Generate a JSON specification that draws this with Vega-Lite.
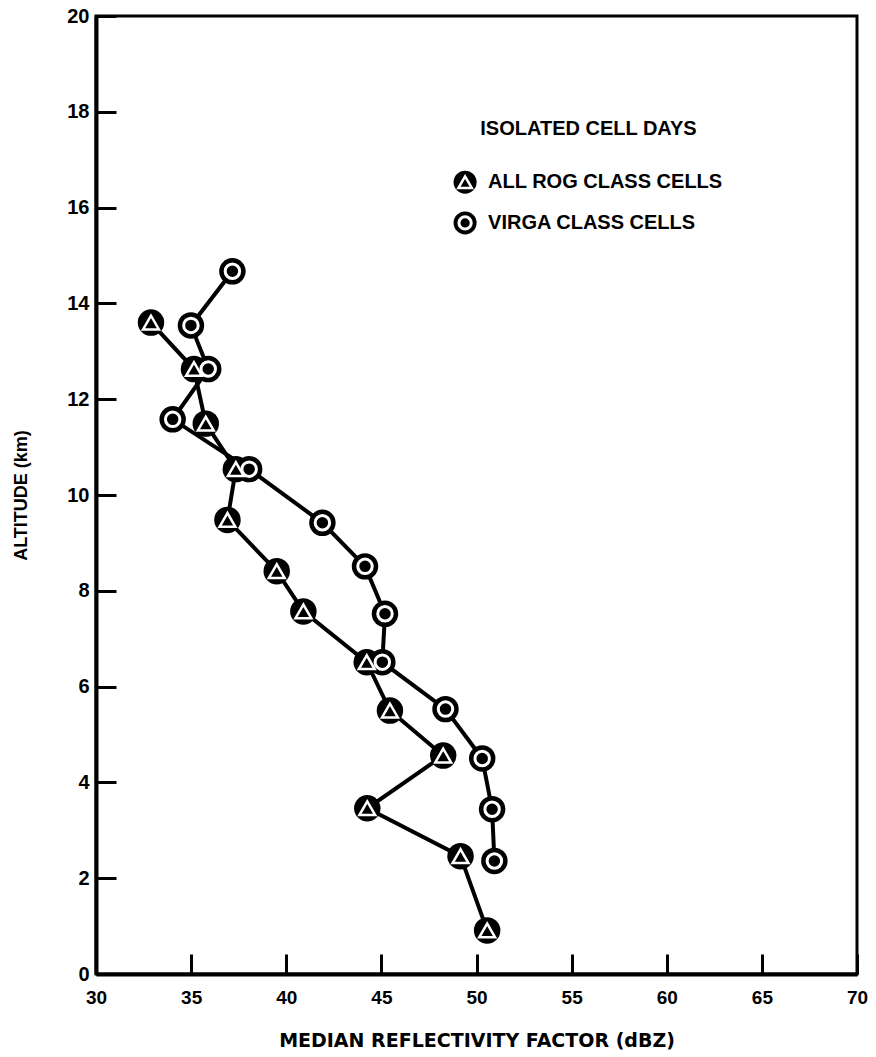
{
  "$schema": "https://vega.github.io/schema/vega-lite/v6.json",
  "width": 761,
  "height": 958,
  "autosize": {"type": "none"},
  "padding": {"left": 96, "top": 16, "right": 19, "bottom": 83},
  "background": "white",
  "config": {
    "view": {"stroke": "black", "strokeWidth": 3},
    "axis": {
      "grid": false,
      "domainColor": "black",
      "domainWidth": 4,
      "tickColor": "black",
      "tickWidth": 3,
      "tickSize": -20,
      "labelFlush": false,
      "labelOverlap": false,
      "labelColor": "black",
      "labelFont": "Liberation Sans",
      "labelFontWeight": "bold",
      "titleColor": "black",
      "titleFontWeight": "bold"
    }
  },
  "datasets": {
    "profiles": [
      {"series": "ROG", "dbz": 32.89, "alt": 13.60},
      {"series": "ROG", "dbz": 35.15, "alt": 12.63},
      {"series": "ROG", "dbz": 35.77, "alt": 11.49},
      {"series": "ROG", "dbz": 37.35, "alt": 10.54},
      {"series": "ROG", "dbz": 36.91, "alt": 9.48},
      {"series": "ROG", "dbz": 39.50, "alt": 8.41},
      {"series": "ROG", "dbz": 40.90, "alt": 7.57},
      {"series": "ROG", "dbz": 44.23, "alt": 6.51},
      {"series": "ROG", "dbz": 45.45, "alt": 5.50},
      {"series": "ROG", "dbz": 48.25, "alt": 4.56},
      {"series": "ROG", "dbz": 44.26, "alt": 3.46},
      {"series": "ROG", "dbz": 49.16, "alt": 2.46},
      {"series": "ROG", "dbz": 50.56, "alt": 0.91},
      {"series": "Virga", "dbz": 37.17, "alt": 14.67},
      {"series": "Virga", "dbz": 34.99, "alt": 13.54},
      {"series": "Virga", "dbz": 35.90, "alt": 12.63},
      {"series": "Virga", "dbz": 34.03, "alt": 11.58},
      {"series": "Virga", "dbz": 38.05, "alt": 10.54},
      {"series": "Virga", "dbz": 41.90, "alt": 9.42},
      {"series": "Virga", "dbz": 44.14, "alt": 8.51},
      {"series": "Virga", "dbz": 45.19, "alt": 7.52},
      {"series": "Virga", "dbz": 45.05, "alt": 6.51},
      {"series": "Virga", "dbz": 48.37, "alt": 5.53},
      {"series": "Virga", "dbz": 50.30, "alt": 4.50},
      {"series": "Virga", "dbz": 50.82, "alt": 3.44},
      {"series": "Virga", "dbz": 50.94, "alt": 2.36}
    ],
    "legend": [
      {"series": "ROG", "dbz": 49.4, "alt": 16.53, "label": "ALL ROG CLASS CELLS"},
      {"series": "Virga", "dbz": 49.4, "alt": 15.68, "label": "VIRGA CLASS CELLS"}
    ],
    "legendTitle": [
      {"dbz": 50.2, "alt": 17.64, "label": "ISOLATED CELL DAYS"}
    ]
  },
  "layer": [
    {
      "data": {"name": "profiles"},
      "mark": {"type": "line", "color": "black", "strokeWidth": 4},
      "encoding": {
        "x": {
          "field": "dbz", "type": "quantitative",
          "scale": {"domain": [30, 70], "nice": false, "zero": false},
          "axis": {
            "values": [30, 35, 40, 45, 50, 55, 60, 65, 70],
            "labelFontSize": 19,
            "labelPadding": 34,
            "title": "MEDIAN REFLECTIVITY FACTOR (dBZ)",
            "titleFont": "DejaVu Sans",
            "titleFontSize": 19,
            "titlePadding": 24
          }
        },
        "y": {
          "field": "alt", "type": "quantitative",
          "scale": {"domain": [0, 20], "nice": false},
          "axis": {
            "values": [0, 2, 4, 6, 8, 10, 12, 14, 16, 18, 20],
            "labelFontSize": 20,
            "labelPadding": 27,
            "title": "ALTITUDE (km)",
            "titleFont": "Liberation Sans",
            "titleFontSize": 18,
            "titlePadding": 36
          }
        },
        "detail": {"field": "series"},
        "order": {"field": "alt", "type": "quantitative"}
      }
    },
    {
      "data": {"name": "profiles"},
      "mark": {"type": "point", "shape": "circle", "filled": true, "color": "black", "opacity": 1, "size": 700},
      "encoding": {
        "x": {"field": "dbz", "type": "quantitative"},
        "y": {"field": "alt", "type": "quantitative"}
      }
    },
    {
      "data": {"name": "profiles"},
      "transform": [{"filter": "datum.series === 'Virga'"}],
      "mark": {"type": "point", "shape": "circle", "filled": false, "stroke": "white", "strokeWidth": 3, "opacity": 1, "size": 210},
      "encoding": {
        "x": {"field": "dbz", "type": "quantitative"},
        "y": {"field": "alt", "type": "quantitative"}
      }
    },
    {
      "data": {"name": "profiles"},
      "transform": [{"filter": "datum.series === 'ROG'"}],
      "mark": {"type": "point", "shape": "triangle-up", "filled": false, "stroke": "white", "strokeWidth": 2.5, "opacity": 1, "size": 250},
      "encoding": {
        "x": {"field": "dbz", "type": "quantitative"},
        "y": {"field": "alt", "type": "quantitative"}
      }
    },
    {
      "data": {"name": "legend"},
      "mark": {"type": "point", "shape": "circle", "filled": true, "color": "black", "opacity": 1, "size": 529},
      "encoding": {
        "x": {"field": "dbz", "type": "quantitative"},
        "y": {"field": "alt", "type": "quantitative"}
      }
    },
    {
      "data": {"name": "legend"},
      "transform": [{"filter": "datum.series === 'Virga'"}],
      "mark": {"type": "point", "shape": "circle", "filled": false, "stroke": "white", "strokeWidth": 3, "opacity": 1, "size": 150},
      "encoding": {
        "x": {"field": "dbz", "type": "quantitative"},
        "y": {"field": "alt", "type": "quantitative"}
      }
    },
    {
      "data": {"name": "legend"},
      "transform": [{"filter": "datum.series === 'ROG'"}],
      "mark": {"type": "point", "shape": "triangle-up", "filled": false, "stroke": "white", "strokeWidth": 2.5, "opacity": 1, "size": 180},
      "encoding": {
        "x": {"field": "dbz", "type": "quantitative"},
        "y": {"field": "alt", "type": "quantitative"}
      }
    },
    {
      "data": {"name": "legend"},
      "mark": {"type": "text", "align": "left", "baseline": "middle", "dx": 23, "font": "Liberation Sans", "fontWeight": "bold", "fontSize": 20, "color": "black"},
      "encoding": {
        "x": {"field": "dbz", "type": "quantitative"},
        "y": {"field": "alt", "type": "quantitative"},
        "text": {"field": "label"}
      }
    },
    {
      "data": {"name": "legendTitle"},
      "mark": {"type": "text", "align": "left", "baseline": "middle", "font": "Liberation Sans", "fontWeight": "bold", "fontSize": 20, "color": "black"},
      "encoding": {
        "x": {"field": "dbz", "type": "quantitative"},
        "y": {"field": "alt", "type": "quantitative"},
        "text": {"field": "label"}
      }
    }
  ]
}
